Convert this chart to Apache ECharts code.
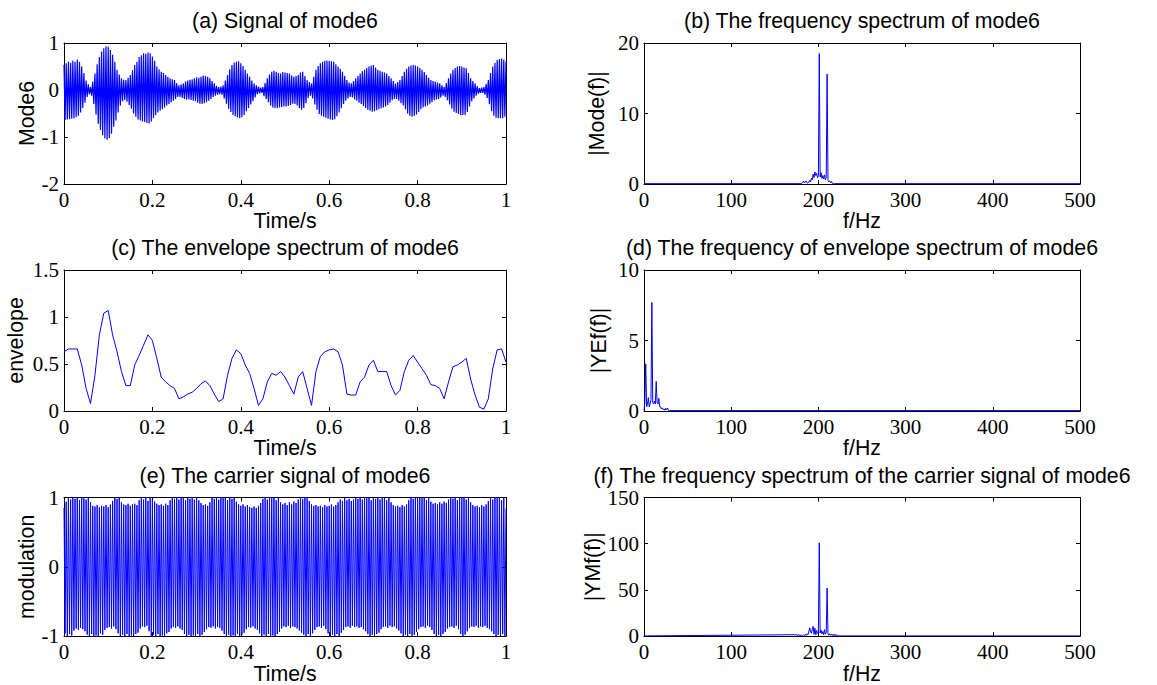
<!DOCTYPE html>
<html>
<head>
<meta charset="utf-8">
<title>Mode6 analysis</title>
<script src="https://cdn.jsdelivr.net/npm/echarts@6/dist/echarts.min.js"></script>
<style>
  html, body { margin: 0; padding: 0; background: #ffffff; }
  #chart { width: 1157px; height: 685px; }
</style>
</head>
<body>
<div id="chart"></div>
<script>
// ---------- data ----------
// Successive extremes of the oscillating signals are half a carrier period apart.
const halfPeriod = 0.0025;

// (a) mode6: positive peaks at t = 0, 0.005, ..., 1.0
const mode6Max = [
  .53,.57,.60,.58,.62,.60,.65,.60,.50,.36,
  .20,.12,.06,.18,.35,.55,.70,.82,.89,.93,
  .92,.85,.75,.60,.43,.33,.25,.22,.21,.26,
  .32,.42,.53,.60,.70,.74,.78,.77,.80,.78,
  .71,.62,.50,.44,.39,.36,.32,.28,.25,.23,
  .21,.15,.10,.12,.14,.18,.20,.22,.23,.25,
  .27,.26,.28,.31,.30,.28,.25,.19,.14,.09,
  .06,.07,.10,.20,.32,.44,.53,.58,.60,.61,
  .57,.51,.43,.35,.28,.20,.14,.10,.07,.05,
  .06,.15,.25,.33,.39,.41,.39,.36,.35,.38,
  .37,.36,.35,.31,.28,.30,.32,.37,.39,.30,
  .21,.17,.14,.28,.43,.51,.57,.60,.62,.63,
  .62,.61,.60,.55,.50,.45,.39,.30,.21,.16,
  .14,.19,.25,.30,.35,.40,.43,.47,.50,.52,
  .53,.48,.43,.41,.39,.37,.35,.30,.25,.19,
  .14,.17,.21,.30,.39,.45,.50,.52,.53,.52,
  .50,.47,.43,.38,.32,.26,.21,.19,.18,.16,
  .14,.10,.07,.15,.25,.35,.43,.47,.50,.51,
  .50,.48,.46,.36,.25,.19,.14,.08,.04,.05,
  .06,.13,.21,.36,.50,.58,.64,.66,.67,.65,
  .60
];
// (a) mode6: negative peaks at t = 0.0025, 0.0075, ..., 0.9975
const mode6Min = [
  -.64,-.63,-.62,-.61,-.60,-.58,-.55,-.48,-.38,-.27,
  -.15,-.09,-.12,-.30,-.52,-.72,-.85,-.96,-1.03,-1.06,
  -1.02,-.93,-.78,-.65,-.48,-.33,-.24,-.21,-.25,-.32,
  -.40,-.50,-.57,-.63,-.65,-.67,-.68,-.70,-.71,-.67,
  -.60,-.53,-.48,-.44,-.41,-.37,-.33,-.30,-.26,-.23,
  -.19,-.15,-.15,-.17,-.19,-.20,-.20,-.21,-.23,-.24,
  -.27,-.29,-.30,-.28,-.26,-.23,-.19,-.15,-.12,-.10,
  -.09,-.10,-.18,-.29,-.40,-.47,-.53,-.56,-.58,-.60,
  -.58,-.53,-.45,-.38,-.31,-.24,-.16,-.09,-.07,-.06,
  -.13,-.19,-.26,-.33,-.37,-.39,-.38,-.37,-.36,-.35,
  -.35,-.34,-.32,-.29,-.30,-.33,-.38,-.42,-.38,-.28,
  -.17,-.12,-.18,-.31,-.42,-.51,-.55,-.57,-.59,-.61,
  -.63,-.64,-.62,-.56,-.48,-.39,-.30,-.23,-.18,-.15,
  -.16,-.20,-.23,-.27,-.30,-.34,-.38,-.42,-.44,-.46,
  -.45,-.43,-.41,-.39,-.37,-.35,-.32,-.27,-.22,-.19,
  -.19,-.23,-.28,-.33,-.41,-.50,-.55,-.57,-.55,-.52,
  -.47,-.41,-.37,-.35,-.33,-.29,-.26,-.22,-.20,-.19,
  -.16,-.12,-.15,-.22,-.31,-.40,-.46,-.49,-.51,-.53,
  -.53,-.53,-.47,-.35,-.24,-.18,-.12,-.08,-.06,-.06,
  -.10,-.17,-.30,-.45,-.55,-.59,-.60,-.60,-.60,-.57
];

// (c) envelope, sampled every 0.01 s from 0 to 1
const envelopeStep = 0.01;
const envelope = [
  0.63,0.66,0.66,0.66,0.49,0.24,0.08,0.38,0.81,1.04,
  1.07,0.81,0.63,0.42,0.27,0.27,0.49,0.59,0.70,0.81,
  0.75,0.56,0.36,0.31,0.27,0.24,0.13,0.15,0.18,0.20,
  0.24,0.29,0.32,0.27,0.18,0.10,0.13,0.38,0.56,0.65,
  0.61,0.49,0.40,0.24,0.06,0.13,0.31,0.40,0.38,0.42,
  0.36,0.27,0.18,0.36,0.42,0.24,0.06,0.42,0.58,0.63,
  0.65,0.66,0.63,0.49,0.18,0.17,0.17,0.31,0.36,0.49,
  0.54,0.42,0.42,0.42,0.27,0.17,0.22,0.42,0.54,0.59,
  0.52,0.45,0.38,0.28,0.27,0.24,0.13,0.31,0.47,0.49,
  0.52,0.56,0.34,0.17,0.04,0.02,0.13,0.45,0.65,0.66,
  0.52
];

// (e) carrier: positive peaks at t = 0, 0.005, ..., 1.0
const carrierMax = [
  .85,.94,.99,.97,1.0,.98,1.0,.96,1.0,.99,
  .97,1.0,.93,.88,.87,.89,.86,.88,.87,.89,
  .86,.90,.95,1.0,.98,1.0,.93,.90,.89,.91,
  .88,.90,.91,.89,.96,1.0,.97,1.0,.95,1.0,
  .98,.94,.91,.89,.90,.88,.91,.89,.96,1.0,
  .98,1.0,.97,1.0,.99,.96,1.0,.98,1.0,.97,
  1.0,.96,.92,.89,.90,.88,.93,1.0,.98,1.0,
  .97,1.0,.99,1.0,.96,1.0,.98,1.0,.94,.90,
  .88,.90,.87,.89,.86,.85,.87,.85,.88,.92,
  .98,1.0,.97,1.0,.99,1.0,.96,1.0,.93,.90,
  .92,.89,.93,.90,.94,.92,.97,1.0,.98,1.0,
  .99,.95,.90,.88,.89,.87,.88,.86,.89,.87,
  .88,.90,.87,.89,.93,.97,.95,1.0,.96,.98,
  .95,.97,1.0,.98,1.0,.97,1.0,.99,1.0,.96,
  1.0,.98,1.0,.97,1.0,.99,.96,1.0,.93,.89,
  .87,.88,.86,.89,.87,.90,.96,1.0,.98,1.0,
  .97,1.0,.99,1.0,.96,1.0,.94,.91,.92,.90,
  .93,.91,.94,.92,.97,1.0,.98,1.0,.96,1.0,
  .99,1.0,.97,1.0,.93,.89,.87,.88,.86,.89,
  .87,.90,.95,1.0,.97,1.0,.99,1.0,.96,1.0,
  .84
];
// (e) carrier: negative peaks at t = 0.0025, 0.0075, ..., 0.9975
const carrierMin = [
  -.96,-1.0,-.97,-.99,-.92,-.89,-.91,-.88,-.90,-.93,
  -.98,-1.0,-.97,-1.0,-.99,-1.0,-.96,-.98,-.91,-.88,
  -.87,-.89,-.86,-.90,-.96,-1.0,-.98,-1.0,-.97,-1.0,
  -.99,-1.0,-.97,-.95,-.89,-.86,-.87,-.85,-.93,-1.0,
  -.98,-1.0,-.97,-1.0,-.99,-1.0,-.96,-.94,-.89,-.87,
  -.88,-.86,-.89,-.91,-.97,-1.0,-.98,-1.0,-.99,-1.0,
  -.97,-1.0,-.98,-.94,-.90,-.87,-.88,-.86,-.89,-.87,
  -.88,-.92,-.97,-1.0,-.98,-1.0,-.99,-1.0,-.97,-1.0,
  -.98,-.95,-.90,-.87,-.88,-.86,-.89,-.91,-.96,-1.0,
  -.98,-1.0,-.97,-1.0,-.99,-1.0,-.97,-.94,-.89,-.86,
  -.87,-.85,-.88,-.86,-.87,-.89,-.92,-.95,-.98,-1.0,
  -.97,-1.0,-.96,-.91,-.87,-.86,-.88,-.85,-.90,-.96,
  -1.0,-.98,-1.0,-.97,-1.0,-.95,-.91,-.87,-.86,-.88,
  -.85,-.87,-.86,-.88,-.87,-.90,-.93,-.97,-1.0,-.98,
  -1.0,-.97,-.95,-.90,-.87,-.86,-.88,-.85,-.87,-.86,
  -.89,-.92,-.96,-1.0,-.98,-1.0,-.97,-1.0,-.98,-.94,
  -.90,-.87,-.86,-.88,-.85,-.87,-.91,-.97,-1.0,-.98,
  -1.0,-.97,-.94,-.89,-.87,-.86,-.88,-.85,-.90,-.97,
  -1.0,-.98,-.93,-.88,-.86,-.87,-.85,-.88,-.86,-.87,
  -.85,-.88,-.90,-.93,-.97,-1.0,-.98,-1.0,-.97,-1.0
];

// Spectra on a 1 Hz grid; outside the listed band the magnitude stays at the floor level.
const spectrumMaxHz = 500;

// (b) |Mode(f)|, bins 180..220 Hz
const modeSpecStartHz = 180;
const modeSpec = [
  0.05,0.1,0.2,0.4,0.15,0.3,0.45,0.2,0.1,0.25,
  0.5,0.3,0.8,0.6,1.4,0.9,1.7,1.2,1.5,0.9,
  1.2,18.5,1.0,1.6,0.8,1.2,0.7,1.3,0.6,1.0,
  15.6,0.5,0.3,0.45,0.2,0.35,0.1,0.05,0.05,0.05,0.05
];
const modeSpecFloor = 0.05;

// (d) |YEf(f)|, bins 0..30 Hz
const envSpecStartHz = 0;
const envSpec = [
  0.05,0.6,3.35,0.3,0.5,0.95,0.3,0.5,0.8,7.7,
  0.6,0.5,0.7,0.5,2.1,0.6,0.5,0.9,0.3,0.3,
  0.15,0.2,0.1,0.15,0.05,0.2,0.1,0.2,0.05,0.03,0.03
];
const envSpecFloor = 0.03;

// (f) |YMf(f)|, bins 175..222 Hz
const carSpecStartHz = 175;
const carSpec = [
  1.5,0.3,1.8,0.5,1.6,0.3,0.6,0.4,1.2,0.5,
  1.8,0.7,2.5,1.5,4.5,9.0,5.0,3.0,7.5,10.5,
  2.0,8.5,1.5,6.0,3.0,4.0,101,3.5,6.5,2.5,
  5.0,1.5,7.0,2.0,4.0,52,2.5,1.0,2.5,0.8,
  2.2,0.6,2.0,0.5,2.0,0.4,1.5,0.2
];
const carSpecFloor = 0.2;

// Axis ranges and tick steps
const timeAxis = { min: 0, max: 1, interval: 0.2 };
const freqAxis = { min: 0, max: 500, interval: 100 };

// ---------- series builders ----------
function peaksToLine(maxs, mins) {
  const pts = [];
  for (let k = 0; k < maxs.length; k++) {
    pts.push([+(2 * k * halfPeriod).toFixed(4), maxs[k]]);
    if (k < mins.length) pts.push([+((2 * k + 1) * halfPeriod).toFixed(4), mins[k]]);
  }
  return pts;
}
function sampled(values, step) {
  return values.map((v, i) => [+(i * step).toFixed(4), v]);
}
function spectrum(startHz, values, floor) {
  const pts = [];
  if (startHz > 0) pts.push([0, floor]);
  values.forEach((v, i) => pts.push([startHz + i, v]));
  pts.push([spectrumMaxHz, floor]);
  return pts;
}

// ---------- layout ----------
const SANS = '"Liberation Sans", Arial, Helvetica, sans-serif';
const SERIF = '"Liberation Serif", "Times New Roman", Times, serif';
const TEXT_SIZE = 21.3;
const TICK_SIZE = 21;
const BLUE = '#0000ff';

const panels = [
  { title: '(a) Signal of mode6', rect: [64, 43, 442, 141], x: timeAxis, y: { min: -2, max: 1, interval: 1 },
    xName: 'Time/s', yName: 'Mode6', yGap: 26, lw: 1.2, data: peaksToLine(mode6Max, mode6Min) },
  { title: '(b) The frequency spectrum of mode6', rect: [644, 43, 436, 141], x: freqAxis, y: { min: 0, max: 20, interval: 10 },
    xName: 'f/Hz', yName: '|Mode(f)|', yGap: 37, lw: 1, data: spectrum(modeSpecStartHz, modeSpec, modeSpecFloor) },
  { title: '(c) The envelope spectrum of mode6', rect: [64, 270, 442, 141], x: timeAxis, y: { min: 0, max: 1.5, interval: 0.5 },
    xName: 'Time/s', yName: 'envelope', yGap: 38, lw: 1, data: sampled(envelope, envelopeStep) },
  { title: '(d) The frequency of envelope spectrum of mode6', rect: [644, 270, 436, 141], x: freqAxis, y: { min: 0, max: 10, interval: 5 },
    xName: 'f/Hz', yName: '|YEf(f)|', yGap: 35, lw: 1, data: spectrum(envSpecStartHz, envSpec, envSpecFloor) },
  { title: '(e) The carrier signal of mode6', rect: [64, 497.5, 442, 141], x: timeAxis, y: { min: -1, max: 1, interval: 1 },
    xName: 'Time/s', yName: 'modulation', yGap: 26, lw: 1, data: peaksToLine(carrierMax, carrierMin) },
  { title: '(f) The frequency spectrum of the carrier signal of mode6', rect: [644, 497.5, 436, 141], x: freqAxis, y: { min: 0, max: 150, interval: 50 },
    xName: 'f/Hz', yName: '|YMf(f)|', yGap: 38, lw: 1, data: spectrum(carSpecStartHz, carSpec, carSpecFloor) }
];

const grids = [], xAxes = [], yAxes = [], series = [], graphics = [];

const frameLine = { show: true, onZero: false, lineStyle: { color: '#000', width: 1 } };
const innerTick = { show: true, inside: true, length: 4, lineStyle: { color: '#000', width: 1 } };

panels.forEach((p, i) => {
  const [left, top, width, height] = p.rect;
  grids.push({ left, top, width, height, containLabel: false, show: false });

  const labelStyle = {
    show: true, margin: 5, color: '#000', fontFamily: SERIF, fontSize: TICK_SIZE,
    showMinLabel: true, showMaxLabel: true, hideOverlap: false
  };
  const nameStyle = { color: '#000', fontFamily: SANS, fontSize: TEXT_SIZE };

  xAxes.push({
    gridIndex: i, type: 'value', position: 'bottom',
    min: p.x.min, max: p.x.max, interval: p.x.interval,
    axisLine: frameLine, axisTick: innerTick, axisLabel: labelStyle,
    splitLine: { show: false },
    name: p.xName, nameLocation: 'middle', nameGap: 22, nameTextStyle: nameStyle
  });
  xAxes.push({
    gridIndex: i, type: 'value', position: 'top',
    min: p.x.min, max: p.x.max, interval: p.x.interval,
    axisLine: frameLine, axisTick: innerTick, axisLabel: { show: false },
    splitLine: { show: false }
  });
  yAxes.push({
    gridIndex: i, type: 'value', position: 'left',
    min: p.y.min, max: p.y.max, interval: p.y.interval,
    axisLine: frameLine, axisTick: innerTick, axisLabel: labelStyle,
    splitLine: { show: false },
    name: p.yName, nameLocation: 'middle', nameGap: p.yGap, nameTextStyle: nameStyle
  });
  yAxes.push({
    gridIndex: i, type: 'value', position: 'right',
    min: p.y.min, max: p.y.max, interval: p.y.interval,
    axisLine: frameLine, axisTick: innerTick, axisLabel: { show: false },
    splitLine: { show: false }
  });

  series.push({
    type: 'line', xAxisIndex: 2 * i, yAxisIndex: 2 * i,
    data: p.data, showSymbol: false, symbol: 'none',
    lineStyle: { color: BLUE, width: p.lw }, itemStyle: { color: BLUE },
    clip: true, silent: true, z: 5
  });

  graphics.push({
    type: 'text', x: left + width / 2, y: top - 22, silent: true,
    style: {
      text: p.title, fill: '#000', fontFamily: SANS, fontSize: TEXT_SIZE,
      font: TEXT_SIZE + 'px ' + SANS,
      align: 'center', verticalAlign: 'middle',
      textAlign: 'center', textVerticalAlign: 'middle'
    }
  });
});

const chart = echarts.init(document.getElementById('chart'), null, { renderer: 'svg', width: 1157, height: 685 });
chart.setOption({
  backgroundColor: '#ffffff',
  animation: false,
  grid: grids,
  xAxis: xAxes,
  yAxis: yAxes,
  series: series,
  graphic: graphics
});
</script>
</body>
</html>
